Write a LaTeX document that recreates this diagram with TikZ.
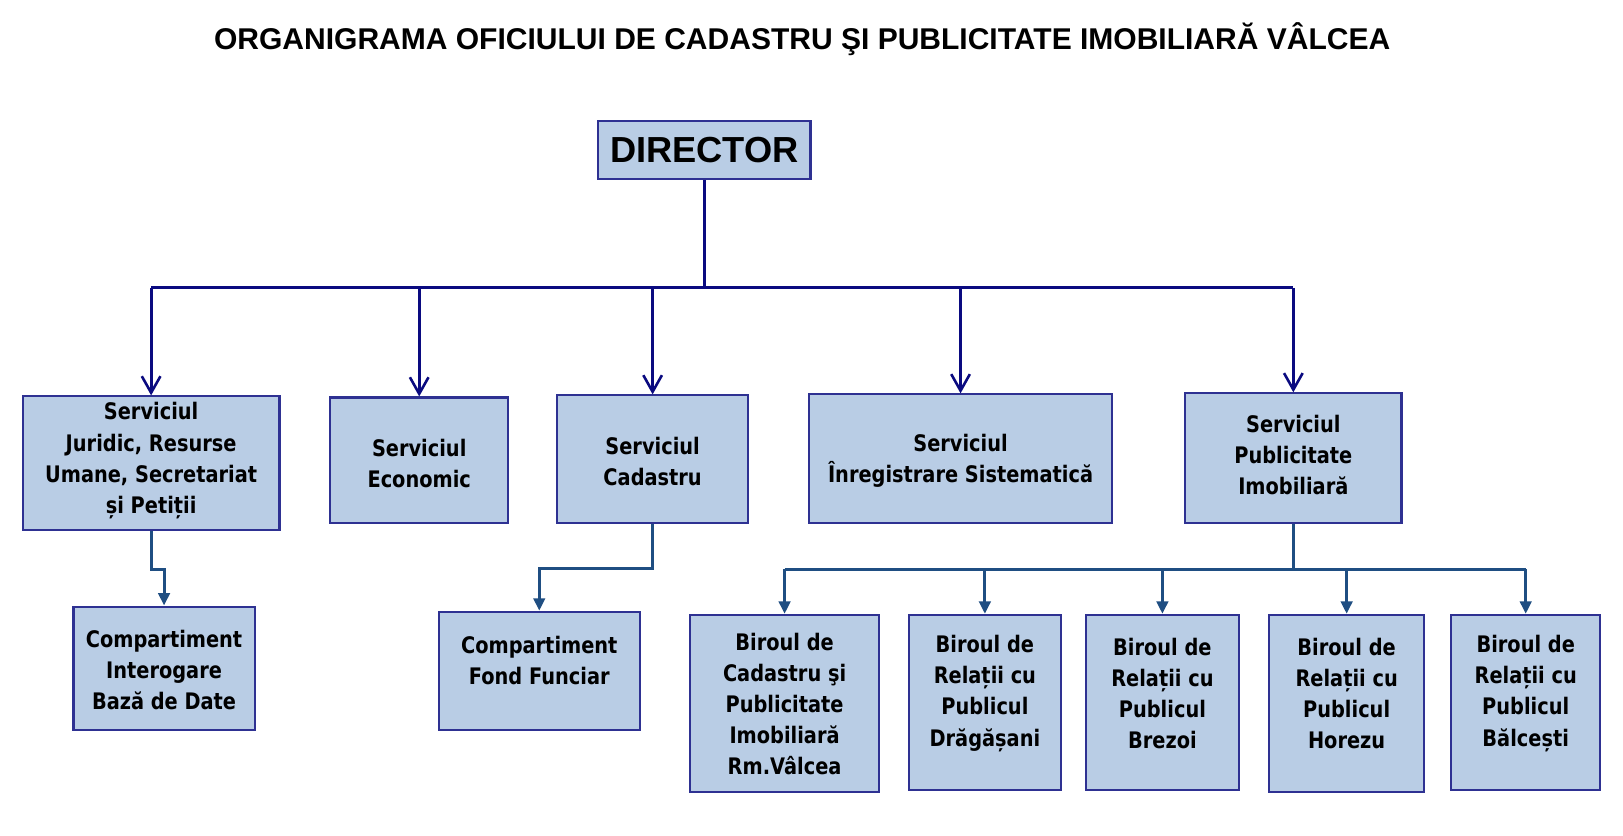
\documentclass[tikz,border=0pt]{standalone}
\usepackage{fontspec}
\setmainfont{Liberation Sans}
\newfontfamily\boxfont{DejaVu Sans}[FakeStretch=0.85]
\usetikzlibrary{arrows.meta}
\definecolor{boxfill}{HTML}{B9CDE5}
\definecolor{boxline}{HTML}{2E3192}
\definecolor{topline}{HTML}{0A0A80}
\definecolor{lowline}{HTML}{1F4E82}
\tikzset{
  orgbox/.style={draw=boxline, line width=2pt, fill=boxfill, inner sep=0pt, anchor=center},
  txt/.style={font=\boxfont\bfseries\fontsize{22}{30}\selectfont, align=center, inner sep=0pt},
  topcon/.style={draw=topline, line width=3pt},
  toparrow/.style={topcon, -{Straight Barb[length=16pt,width=18pt,line width=2.5pt]}},
  lowcon/.style={draw=lowline, line width=3pt},
  lowarrow/.style={lowcon, -{Triangle[length=12pt,width=11pt]}},
}
\begin{document}
\begin{tikzpicture}[x=1pt,y=-1pt]
\useasboundingbox (0,0) rectangle (1568,807);
\fill[white] (0,0) rectangle (1568,807);
\node[font=\bfseries\fontsize{29}{34}\selectfont, inner sep=0pt] (title) at (775,38) {ORGANIGRAMA OFICIULUI DE CADASTRU ŞI PUBLICITATE IMOBILIARĂ VÂLCEA};
% boxes
\node[orgbox, minimum width=205pt, minimum height=56pt, font=\bfseries\fontsize{35}{40}\selectfont] (dir) at (680.5,145) {DIRECTOR};
\node[orgbox, minimum width=248pt, minimum height=129pt] (s1) at (146,447.5) {};
\node[orgbox, minimum width=172pt, minimum height=121pt] (s2) at (405,444.5) {};
\node[orgbox, minimum width=185pt, minimum height=123pt] (s3) at (630.5,443.5) {};
\node[orgbox, minimum width=292pt, minimum height=124pt] (s4) at (928,443) {};
\node[orgbox, minimum width=209pt, minimum height=125pt] (s5) at (1249.5,442.5) {};
\node[orgbox, minimum width=175pt, minimum height=119pt] (c1) at (158.5,645.5) {};
\node[orgbox, minimum width=194pt, minimum height=114pt] (c2) at (521,648) {};
\node[orgbox, minimum width=182pt, minimum height=171pt] (b1) at (758,679.5) {};
\node[orgbox, minimum width=147pt, minimum height=169pt] (b2) at (951.5,678.5) {};
\node[orgbox, minimum width=148pt, minimum height=169pt] (b3) at (1123,678.5) {};
\node[orgbox, minimum width=150pt, minimum height=171pt] (b4) at (1301,679.5) {};
\node[orgbox, minimum width=144pt, minimum height=169pt] (b5) at (1474,678.5) {};
% texts
\node[txt] (s1t) at (146,445) {Serviciul\\ Juridic, Resurse\\Umane, Secretariat\\și Petiții};
\node[txt] (s2t) at (405,448) {Serviciul\\Economic};
\node[txt] (s3t) at (630.5,446) {Serviciul\\Cadastru};
\node[txt] (s4t) at (928,445) {Serviciul\\Înregistrare Sistematică};
\node[txt] (s5t) at (1249.5,440) {Serviciul\\Publicitate\\Imobiliară};
\node[txt] (c1t) at (158.5,647) {Compartiment\\Interogare\\Bază de Date};
\node[txt] (c2t) at (521,638) {Compartiment\\Fond Funciar};
\node[txt] (b1t) at (758,680) {Biroul de\\Cadastru şi\\Publicitate\\Imobiliară\\Rm.Vâlcea};
\node[txt] (b2t) at (951.5,670) {Biroul de\\Relații cu\\Publicul\\Drăgășani};
\node[txt] (b3t) at (1123,670) {Biroul de\\Relații cu\\Publicul\\Brezoi};
\node[txt] (b4t) at (1301,670) {Biroul de\\Relații cu\\Publicul\\Horezu};
\node[txt] (b5t) at (1474,670) {Biroul de\\Relații cu\\Publicul\\Bălcești};
% top connectors
\draw[topcon] (dir.south) -- ++(0,104) coordinate (jd);
\draw[topcon] (s1.north |- jd) -- (s5.north |- jd);
\foreach \n in {s1,s2,s3,s4,s5}
  \draw[toparrow] (\n.north |- jd) -- (\n.north);
% lower connectors
\draw[lowarrow] (s1.south) -- ++(0,37) -| (c1.north);
\draw[lowarrow] (s3.south) -- ++(0,43) -| (c2.north);
\draw[lowcon] (s5.south) -- ++(0,44) coordinate (j5);
\draw[lowcon] (b1.north |- j5) -- (b5.north |- j5);
\foreach \n in {b1,b2,b3,b4,b5}
  \draw[lowarrow] (\n.north |- j5) -- (\n.north);
\end{tikzpicture}
\end{document}
